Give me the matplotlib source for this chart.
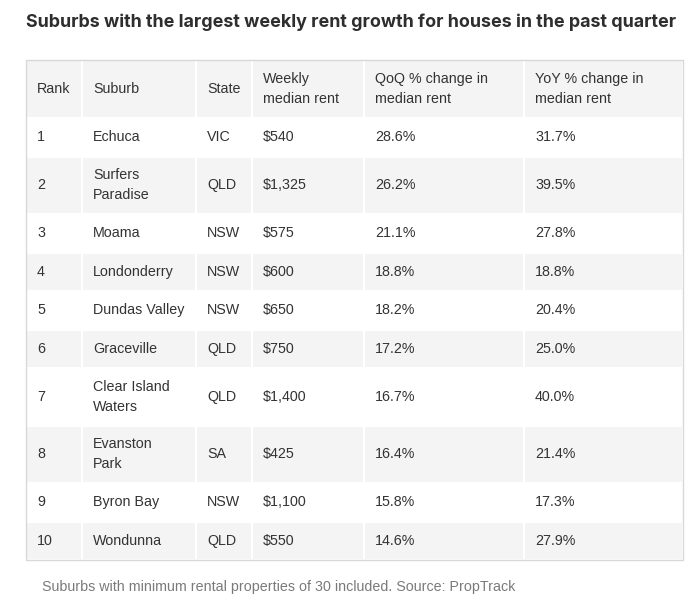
import matplotlib.pyplot as plt
from matplotlib.patches import Rectangle

# table contents
headers = ["Rank", "Suburb", "State", "Weekly\nmedian rent",
           "QoQ % change in\nmedian rent", "YoY % change in\nmedian rent"]
ranks = ["1", "2", "3", "4", "5", "6", "7", "8", "9", "10"]
suburbs = ["Echuca", "Surfers\nParadise", "Moama", "Londonderry", "Dundas Valley",
           "Graceville", "Clear Island\nWaters", "Evanston\nPark", "Byron Bay", "Wondunna"]
states = ["VIC", "QLD", "NSW", "NSW", "NSW", "QLD", "QLD", "SA", "NSW", "QLD"]
rents = ["$540", "$1,325", "$575", "$600", "$650", "$750", "$1,400", "$425", "$1,100", "$550"]
qoq = ["28.6%", "26.2%", "21.1%", "18.8%", "18.2%", "17.2%", "16.7%", "16.4%", "15.8%", "14.6%"]
yoy = ["31.7%", "39.5%", "27.8%", "18.8%", "20.4%", "25.0%", "40.0%", "21.4%", "17.3%", "27.9%"]

title = "Suburbs with the largest weekly rent growth for houses in the past quarter"
note = "Suburbs with minimum rental properties of 30 included. Source: PropTrack"

# layout (pixels)
col_edges = [26, 82, 196, 252, 364, 524, 683]
top = 60
header_h = 58
row_h1 = 38.5
row_h2 = 57.5
grey = "#f4f4f4"
txt = "#333333"
fs = 10.3

fig = plt.figure(figsize=(7, 6.08), dpi=100)
ax = fig.add_axes([0, 0, 1, 1])
ax.set_xlim(0, 700)
ax.set_ylim(608, 0)
ax.axis("off")

ax.text(26, 22, title, fontsize=12.9, fontweight="bold", color="#2e2e2e",
        family=["Inter", "DejaVu Sans"], va="center", ha="left")


def draw_row(y, h, cells, shaded):
    for j, val in enumerate(cells):
        x0, x1 = col_edges[j], col_edges[j + 1]
        if shaded:
            ax.add_patch(Rectangle((x0 + 1, y + 1), x1 - x0 - 2, h - 2,
                                   facecolor=grey, edgecolor="none"))
        ax.text(x0 + 11, y + h / 2, val, fontsize=fs, color=txt,
                family="Liberation Sans", va="center", ha="left", linespacing=1.58)


draw_row(top, header_h, headers, True)
y = top + header_h
for i in range(len(ranks)):
    cells = [ranks[i], suburbs[i], states[i], rents[i], qoq[i], yoy[i]]
    h = row_h2 if "\n" in suburbs[i] else row_h1
    draw_row(y, h, cells, i % 2 == 1)
    y += h

# outer border
ax.add_patch(Rectangle((col_edges[0], top), col_edges[-1] - col_edges[0], y - top,
                       facecolor="none", edgecolor="#d8d8d8", linewidth=1))

ax.text(42, 587, note, fontsize=fs, color="#7a7a7a", family="Liberation Sans",
        va="center", ha="left")

fig.savefig("out.png", dpi=100)
